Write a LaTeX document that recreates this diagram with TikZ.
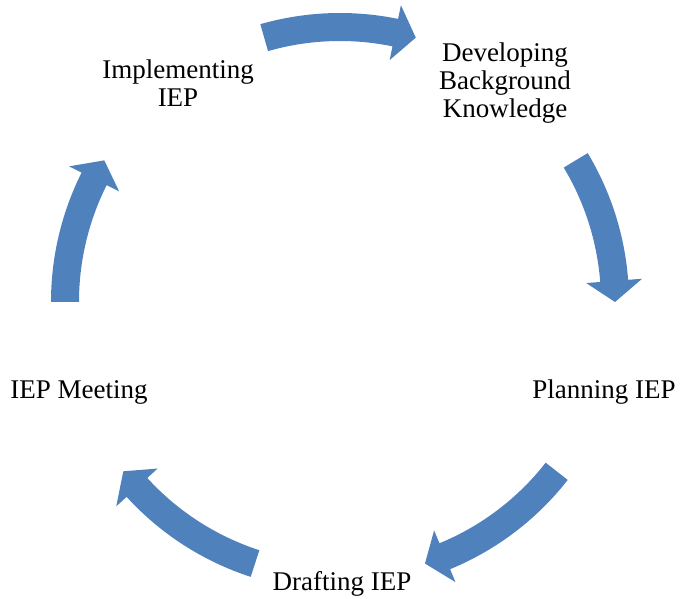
\documentclass[tikz,border=0pt]{standalone}
\usepackage{fontspec}
\setmainfont{Liberation Serif}
\definecolor{cycleblue}{HTML}{4F81BD}

% Curved block arrow on the cycle circle, running clockwise
% from the tail angle #1 to the tip angle #2 (centre at the origin).
\newcommand{\cyclearrow}[2]{%
  \fill[arrowfill]
    (#1:289) arc[start angle=#1, end angle=#2+4.4, radius=289]
    -- (#2+4.4:303) -- (#2:275) -- (#2+4.4:247) -- (#2+4.4:261)
    arc[start angle=#2+4.4, end angle=#1, radius=261] -- cycle;}

\begin{document}
\begin{tikzpicture}[x=1pt,y=1pt,
    stage/.style={inner sep=0pt, anchor=base, align=center,
      font=\fontsize{27}{28}\selectfont},
    arrowfill/.style={fill=cycleblue}]
  \useasboundingbox (0,0) rectangle (681,598);

  % stage labels (anchored on the baseline of their last line)
  \node[stage] (dev)   at (505,480) {Developing\\Background\\Knowledge};
  \node[stage] (plan)  at (604,199) {Planning IEP};
  \node[stage] (draft) at (342,8)   {Drafting IEP};
  \node[stage] (meet)  at (79,199)  {IEP Meeting};
  \node[stage] (impl)  at (178,491) {Implementing\\IEP};

  % cycle arrows
  \coordinate (hub) at (340,296);
  \begin{scope}[shift={(hub)}]
    \cyclearrow{106}{74}
    \cyclearrow{31}{0}
    \cyclearrow{-38}{-72}
    \cyclearrow{-108}{-142}
    \cyclearrow{-180}{-211}
  \end{scope}
\end{tikzpicture}
\end{document}
